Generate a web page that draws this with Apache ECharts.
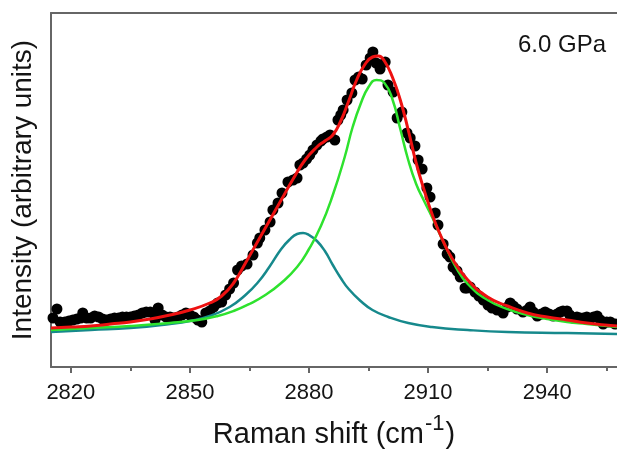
<!DOCTYPE html>
<html>
<head>
<meta charset="utf-8">
<title>Raman spectrum 6.0 GPa</title>
<script src="https://cdn.jsdelivr.net/npm/echarts@6/dist/echarts.min.js"></script>
<style>
  html, body { margin: 0; padding: 0; background: #fff; }
  #chart { width: 617px; height: 455px; }
</style>
</head>
<body>
<div id="chart"></div>
<script>
// measured points, [Raman shift, intensity (arb.)]
const measured = [
  [2815.5, 49], [2816.5, 58], [2817.3, 45], [2818.5, 45], [2819.5, 46], [2820.5, 47],
  [2821.5, 48], [2822.5, 49], [2823, 54], [2824, 49], [2825, 49], [2826, 51], [2827, 50],
  [2828, 48], [2829, 47], [2830, 48], [2831, 49], [2832, 49], [2833, 50], [2834, 50],
  [2835, 50], [2836, 51], [2837, 52], [2838, 54], [2839, 55], [2840, 55], [2841, 54],
  [2841.2, 47], [2842, 59], [2843, 52], [2844, 50], [2845, 50], [2846, 49], [2847, 50],
  [2848, 52], [2849, 54], [2850, 52], [2851, 50], [2852, 47], [2853, 45], [2854, 54],
  [2855, 56], [2856, 60], [2857, 64], [2858, 65], [2859, 72], [2860, 78], [2861, 84],
  [2862, 97], [2863, 101], [2864.4, 103], [2865.9, 112], [2867, 124], [2867.6, 129],
  [2868.9, 137], [2870.2, 145], [2870.9, 157], [2872.2, 164], [2873.2, 174], [2874.7, 185],
  [2876, 187], [2877, 189], [2877.7, 202], [2878.5, 204], [2879.4, 208], [2880.2, 212],
  [2881, 217], [2882, 222], [2883, 226], [2883.5, 228], [2884.5, 230], [2885.3, 232],
  [2886.5, 227], [2887.3, 247], [2888, 252], [2888.6, 257], [2889.6, 267], [2890.8, 274],
  [2891.6, 287], [2892.5, 290], [2893.4, 288], [2894.4, 302], [2895.4, 309], [2896.1, 315],
  [2896.9, 304], [2897.9, 298], [2899.2, 305], [2899.9, 282], [2901.2, 275], [2902.2, 249],
  [2903.4, 255], [2904.7, 234], [2905.5, 229], [2906.7, 221], [2907.5, 207], [2908.5, 198],
  [2909.7, 179], [2910.5, 170], [2911.8, 154], [2912.5, 142], [2913.8, 123], [2914.8, 113],
  [2915.5, 110], [2916.3, 100], [2917.3, 96], [2918.1, 90], [2919.3, 79], [2919.8, 79],
  [2920.6, 80], [2921.8, 75], [2922.8, 71], [2923.9, 67], [2925.1, 62], [2926.1, 59],
  [2927.4, 57], [2928.9, 54], [2930, 60], [2930.7, 64], [2931.5, 61], [2932.4, 58],
  [2933.9, 55], [2935, 57], [2935.7, 60], [2936.5, 55], [2937.5, 51], [2938.5, 53],
  [2939.5, 55], [2940.5, 53], [2941.5, 51], [2942.5, 53], [2943.3, 55], [2944, 56],
  [2945, 56], [2945.7, 52], [2946.5, 49], [2947.5, 50], [2948.3, 49], [2949.1, 49],
  [2950, 50], [2950.8, 48], [2951.7, 50], [2952.6, 51], [2953.4, 47], [2954.1, 43],
  [2955, 45], [2955.9, 45], [2957.1, 43]
];

// total fit (red)
const fitTotal = [
  [2815, 39], [2820, 40], [2825, 41], [2830, 43], [2835, 45], [2840, 48], [2845, 52],
  [2850, 57], [2855, 64], [2858, 71], [2861, 84], [2864, 104], [2867, 125], [2870, 146],
  [2873, 167], [2876, 188], [2879, 207], [2882, 220], [2884, 226], [2886, 232], [2888, 246],
  [2890, 266], [2892, 287], [2894, 302], [2896, 310], [2897.5, 311], [2899, 306], [2901, 290],
  [2903, 267], [2905, 237], [2907, 204], [2909, 177], [2911, 153], [2913, 133], [2916, 109],
  [2920, 87], [2925, 70], [2930, 61], [2935, 54], [2940, 50], [2945, 47], [2950, 44],
  [2957.6, 41]
];

// high frequency component (green)
const peakHigh = [
  [2815, 37], [2825, 39], [2835, 41], [2845, 44], [2852, 47], [2857, 51], [2861, 56],
  [2865, 63], [2869, 72], [2873, 84], [2877, 100], [2880, 118], [2883, 141], [2886, 172],
  [2889, 210], [2891, 240], [2893, 263], [2895, 280], [2897, 287], [2899, 284], [2901, 268],
  [2903, 238], [2905, 207], [2907, 183], [2909, 166], [2911, 150], [2914, 124], [2917, 100],
  [2920, 83], [2925, 67], [2930, 58], [2935, 52], [2940, 48], [2945, 45], [2950, 43],
  [2957.6, 40]
];

// low frequency component (teal)
const peakLow = [
  [2815, 35], [2825, 37], [2835, 39], [2845, 43], [2850, 46], [2855, 51], [2860, 60],
  [2864, 72], [2867, 84], [2870, 100], [2873, 118], [2875, 127], [2877, 133], [2878.5, 134],
  [2880, 132], [2882, 126], [2884, 116], [2886, 102], [2888, 89], [2890, 78], [2893, 66],
  [2896, 57], [2900, 50], [2905, 44], [2911, 40], [2920, 37], [2930, 35], [2945, 34],
  [2957.6, 33]
];

const majorTicks = [2820, 2850, 2880, 2910, 2940];
const minorTicks = [2835, 2865, 2895, 2925, 2955];
const pressureLabel = '6.0 GPa';

const FONT = 'Liberation Sans, Arial, sans-serif';
const TEXT_COLOR = '#141414';
const AXIS_COLOR = '#666';
const X_MIN = 2815;
const X_MAX = 2957.6;

const baseXAxis = (extra) => {
  return {
    type: 'value',
    min: X_MIN,
    max: X_MAX,
    splitLine: { show: false },
    axisLine: { show: true, lineStyle: { color: AXIS_COLOR, width: 2 } },
    ...extra
  };
};

const lineSeries = (name, data, color, width) => {
  return {
    name: name,
    type: 'line',
    data: data,
    smooth: true,
    symbol: 'none',
    lineStyle: { color: color, width: width },
    z: 3
  };
};

const chartOpt = () => {
  return {
    animation: false,
    grid: { left: 51, right: 0, top: 13, bottom: 88 },
    xAxis: [
      baseXAxis({
        position: 'bottom',
        name: '{a|Raman shift (cm}{s|-1}{a|)}',
        nameLocation: 'middle',
        nameGap: 46,
        nameTextStyle: {
          rich: {
            a: { fontFamily: FONT, fontSize: 29, color: TEXT_COLOR, lineHeight: 36, verticalAlign: 'bottom' },
            s: { fontFamily: FONT, fontSize: 22, color: TEXT_COLOR, lineHeight: 36, verticalAlign: 'top', padding: [0, 1, 0, 1] }
          }
        },
        axisTick: { show: true, customValues: majorTicks, length: 6, lineStyle: { color: AXIS_COLOR, width: 2 } },
        axisLabel: {
          customValues: majorTicks,
          formatter: (v) => String(v),
          fontFamily: FONT,
          fontSize: 22,
          color: TEXT_COLOR,
          margin: 15
        }
      }),
      baseXAxis({
        position: 'bottom',
        axisLine: { show: false },
        axisTick: { show: true, customValues: minorTicks, length: 4, lineStyle: { color: AXIS_COLOR, width: 2 } },
        axisLabel: { show: false }
      }),
      baseXAxis({
        position: 'top',
        axisTick: { show: false },
        axisLabel: { show: false }
      })
    ],
    yAxis: {
      type: 'value',
      min: 0,
      max: 354,
      name: 'Intensity (arbitrary units)',
      nameLocation: 'middle',
      nameGap: 14,
      nameTextStyle: { fontFamily: FONT, fontSize: 28, color: TEXT_COLOR },
      axisLine: { show: true, lineStyle: { color: AXIS_COLOR, width: 2 } },
      axisTick: { show: false },
      axisLabel: { show: false },
      splitLine: { show: false }
    },
    graphic: [
      {
        type: 'text',
        right: 11,
        top: 33,
        style: { text: pressureLabel, fontFamily: FONT, fontSize: 24, fill: TEXT_COLOR }
      }
    ],
    series: [
      {
        name: 'data',
        type: 'scatter',
        data: measured,
        symbol: 'circle',
        symbolSize: 11,
        itemStyle: { color: '#000', opacity: 1 },
        z: 2
      },
      lineSeries('peak 1', peakLow, '#16898c', 2.5),
      lineSeries('peak 2', peakHigh, '#2ee22e', 2.5),
      lineSeries('fit', fitTotal, '#ee1111', 3)
    ]
  };
};

const chart = echarts.init(document.getElementById('chart'));
chart.setOption(chartOpt());
</script>
</body>
</html>
